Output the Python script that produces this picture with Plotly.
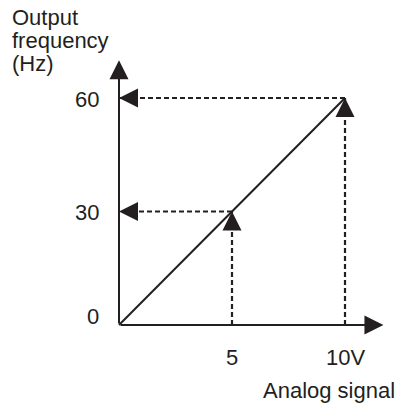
import plotly.graph_objects as go

# ---- data ----
signal_line = [0, 10]          # analog signal (V)
freq_line = [0, 60]            # output frequency (Hz)
mark_signal = [5, 10]          # marked signal values
mark_freq = [30, 60]           # corresponding frequencies
y_tick_vals = [0, 30, 60]
y_tick_text = ["0", "30", "60"]
x_tick_vals = [5, 10]
x_tick_text = ["5", "10V"]
x_axis_end = 11.7
y_axis_end = 70

# ---- layout constants ----
W, H = 397, 405
ORIGIN_X_PX, ORIGIN_Y_PX = 119, 325
X_PX_PER_UNIT = 22.6
Y_PX_PER_UNIT = 3.783
INK = "#231f20"
FONT = "Liberation Sans, Arial, sans-serif"
FS = 22

x_range = [-ORIGIN_X_PX / X_PX_PER_UNIT, (W - ORIGIN_X_PX) / X_PX_PER_UNIT]
y_range = [-(H - ORIGIN_Y_PX) / Y_PX_PER_UNIT, ORIGIN_Y_PX / Y_PX_PER_UNIT]

fig = go.Figure()

# diagonal characteristic
fig.add_trace(go.Scatter(x=signal_line, y=freq_line, mode="lines",
                         line=dict(color=INK, width=2), hoverinfo="skip"))

annotations = []
arrow_style = dict(showarrow=True, arrowhead=2, arrowsize=1.9, arrowwidth=2,
                   arrowcolor=INK, text="")

# dashed guide lines with arrowheads
for sx, fy in zip(mark_signal, mark_freq):
    fig.add_trace(go.Scatter(x=[sx, sx], y=[0, fy], mode="lines",
                             line=dict(color=INK, width=2.2, dash="5px,3px"),
                             hoverinfo="skip"))
    fig.add_trace(go.Scatter(x=[sx, 0], y=[fy, fy], mode="lines",
                             line=dict(color=INK, width=2.2, dash="5px,3px"),
                             hoverinfo="skip"))
    annotations.append(dict(x=sx, y=fy, xref="x", yref="y", ax=0, ay=18, **arrow_style))
    annotations.append(dict(x=0, y=fy, xref="x", yref="y", ax=18, ay=0, **arrow_style))

# main axes with arrows
annotations.append(dict(x=x_axis_end, y=0, xref="x", yref="y", ax=0, ay=0,
                        axref="x", ayref="y", **arrow_style))
annotations.append(dict(x=0, y=y_axis_end, xref="x", yref="y", ax=0, ay=0,
                        axref="x", ayref="y", **arrow_style))

font = dict(family=FONT, size=FS, color=INK)

# y tick labels
for v, t in zip(y_tick_vals, y_tick_text):
    annotations.append(dict(x=0, y=v, xref="x", yref="y", text=t, showarrow=False,
                            xanchor="right", yanchor="middle", xshift=-18,
                            yshift=9 if v == 0 else -1, font=font))
# x tick labels
for v, t in zip(x_tick_vals, x_tick_text):
    annotations.append(dict(x=v, y=0, xref="x", yref="y", text=t, showarrow=False,
                            xanchor="center", yanchor="middle", yshift=-32, font=font))

# axis titles
for i, line in enumerate(["Output", "frequency", "(Hz)"]):
    annotations.append(dict(x=10 / W, y=1 - (18 + 22.5 * i) / H, xref="paper", yref="paper",
                            text=line, showarrow=False, xanchor="left", yanchor="middle",
                            font=font))
annotations.append(dict(x=397 / W, y=1 - 390 / H, xref="paper", yref="paper",
                        text="Analog signal", showarrow=False, xanchor="right",
                        yanchor="middle", font=font))

fig.update_layout(
    width=W, height=H, autosize=False,
    margin=dict(l=0, r=0, t=0, b=0, pad=0),
    paper_bgcolor="white", plot_bgcolor="white",
    showlegend=False,
    xaxis=dict(range=x_range, visible=False, fixedrange=True),
    yaxis=dict(range=y_range, visible=False, fixedrange=True),
    annotations=annotations,
)

fig.write_html(
    "out.html",
    config={"displayModeBar": False},
    post_script="document.body.style.margin='0';document.body.style.overflow='hidden';",
)
